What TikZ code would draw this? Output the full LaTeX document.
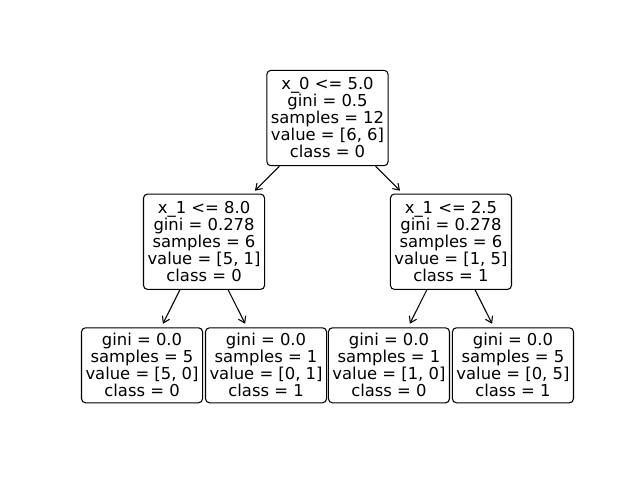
\documentclass[tikz,border=0pt]{standalone}
\usepackage{fontspec}
\setmainfont{DejaVu Sans}
\usetikzlibrary{positioning, arrows.meta}
\tikzset{
	split/.style={draw, rectangle, rounded corners=3pt, align=center, line width=0.8pt,
		inner xsep=3pt, inner ysep=0pt, minimum height=71.5pt, fill=white},
	leaf/.style={split, minimum height=56.25pt},
	to/.style={-{Straight Barb[length=4.5pt,width=6pt]}, line width=0.8pt, shorten >=3pt}
}

\begin{document}
\begin{tikzpicture}[x=0.75pt, y=-0.75pt,
				font=\fontsize{12.3}{12.75}\selectfont
				]
				\useasboundingbox (0,0) rectangle (640,480);
				
				\node[split] (root) at (327.5,118) {x\_0 <= 5.0\\gini = 0.5\\samples = 12\\value = [6, 6]\\class = 0};
				
				\node[split, below=20.5pt of root, xshift=-92.6pt] (l) {x\_1 <= 8.0\\gini = 0.278\\samples = 6\\value = [5, 1]\\class = 0};
				\node[split, below=20.5pt of root, xshift=92.6pt] (r) {x\_1 <= 2.5\\gini = 0.278\\samples = 6\\value = [1, 5]\\class = 1};
				
				\node[leaf, below=28pt of l, xshift=-46.5pt] (ll) {gini = 0.0\\samples = 5\\value = [5, 0]\\class = 0};
				\node[leaf, below=28pt of l, xshift=46.5pt] (lr) {gini = 0.0\\samples = 1\\value = [0, 1]\\class = 1};
				\node[leaf, below=28pt of r, xshift=-46.5pt] (rl) {gini = 0.0\\samples = 1\\value = [1, 0]\\class = 0};
				\node[leaf, below=28pt of r, xshift=46.5pt] (rr) {gini = 0.0\\samples = 5\\value = [0, 5]\\class = 1};
				
				\draw[to] (root) -- (l);
				\draw[to] (root) -- (r);
				\draw[to] (l) -- (ll);
				\draw[to] (l) -- (lr);
				\draw[to] (r) -- (rl);
				\draw[to] (r) -- (rr);
				
\end{tikzpicture}
\end{document}
